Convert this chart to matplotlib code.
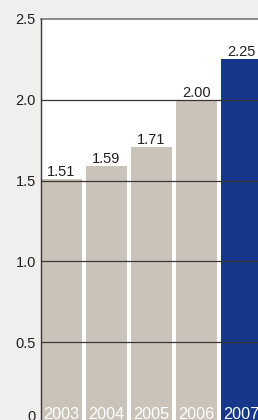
import matplotlib
matplotlib.use("Agg")
import matplotlib.pyplot as plt
import numpy as np

plt.rcParams["font.family"] = ["Liberation Sans", "DejaVu Sans"]

years = ["2003", "2004", "2005", "2006", "2007"]
values = [1.51, 1.59, 1.71, 2.00, 2.25]
bar_colors = ["#cac3b9", "#cac3b9", "#cac3b9", "#cac3b9", "#16378a"]
yticks = [0, 0.5, 1.0, 1.5, 2.0, 2.5]
ytick_labels = ["", "0.5", "1.0", "1.5", "2.0", "2.5"]

fig = plt.figure(figsize=(2.58, 4.2), dpi=100, facecolor="#f0efed")
ax = fig.add_axes([41 / 258, -3 / 420, 217 / 258, 404 / 420])
ax.set_facecolor("white")

x = np.arange(len(years))
bars = ax.bar(x, values, 0.91, color=bar_colors, zorder=1)
ax.bar_label(bars, labels=[f"{v:.2f}" for v in values], padding=0,
             fontsize=10.5, color="#231f20")

for xi, yr in zip(x, years):
    ax.text(xi, 0.025, yr, ha="center", va="baseline", color="white",
            fontsize=11.7, zorder=3)

ax.set_xlim(-0.455, 4.37)
ax.set_ylim(0, 2.5)
ax.set_yticks(yticks)
ax.set_yticklabels(ytick_labels)
ax.set_xticks([])
ax.tick_params(axis="y", length=0, pad=3.6, labelsize=10.5, labelcolor="#231f20")
ax.annotate("0", xy=(0, 0), xycoords=("axes fraction", "data"),
            xytext=(-3.6, 4), textcoords="offset points", ha="right",
            va="center", fontsize=10.5, color="#231f20", annotation_clip=False)

for yv in yticks[1:-1]:
    ax.axhline(yv, color="#3a3536", lw=0.9, zorder=2)
ax.axhline(2.5, color="#7a7777", lw=1.2, zorder=2, clip_on=False)

for s in ["right", "bottom", "top"]:
    ax.spines[s].set_visible(False)
ax.spines["left"].set_color("#3a3536")
ax.spines["left"].set_linewidth(1.0)

fig.savefig("out.png", dpi=100, facecolor=fig.get_facecolor())
